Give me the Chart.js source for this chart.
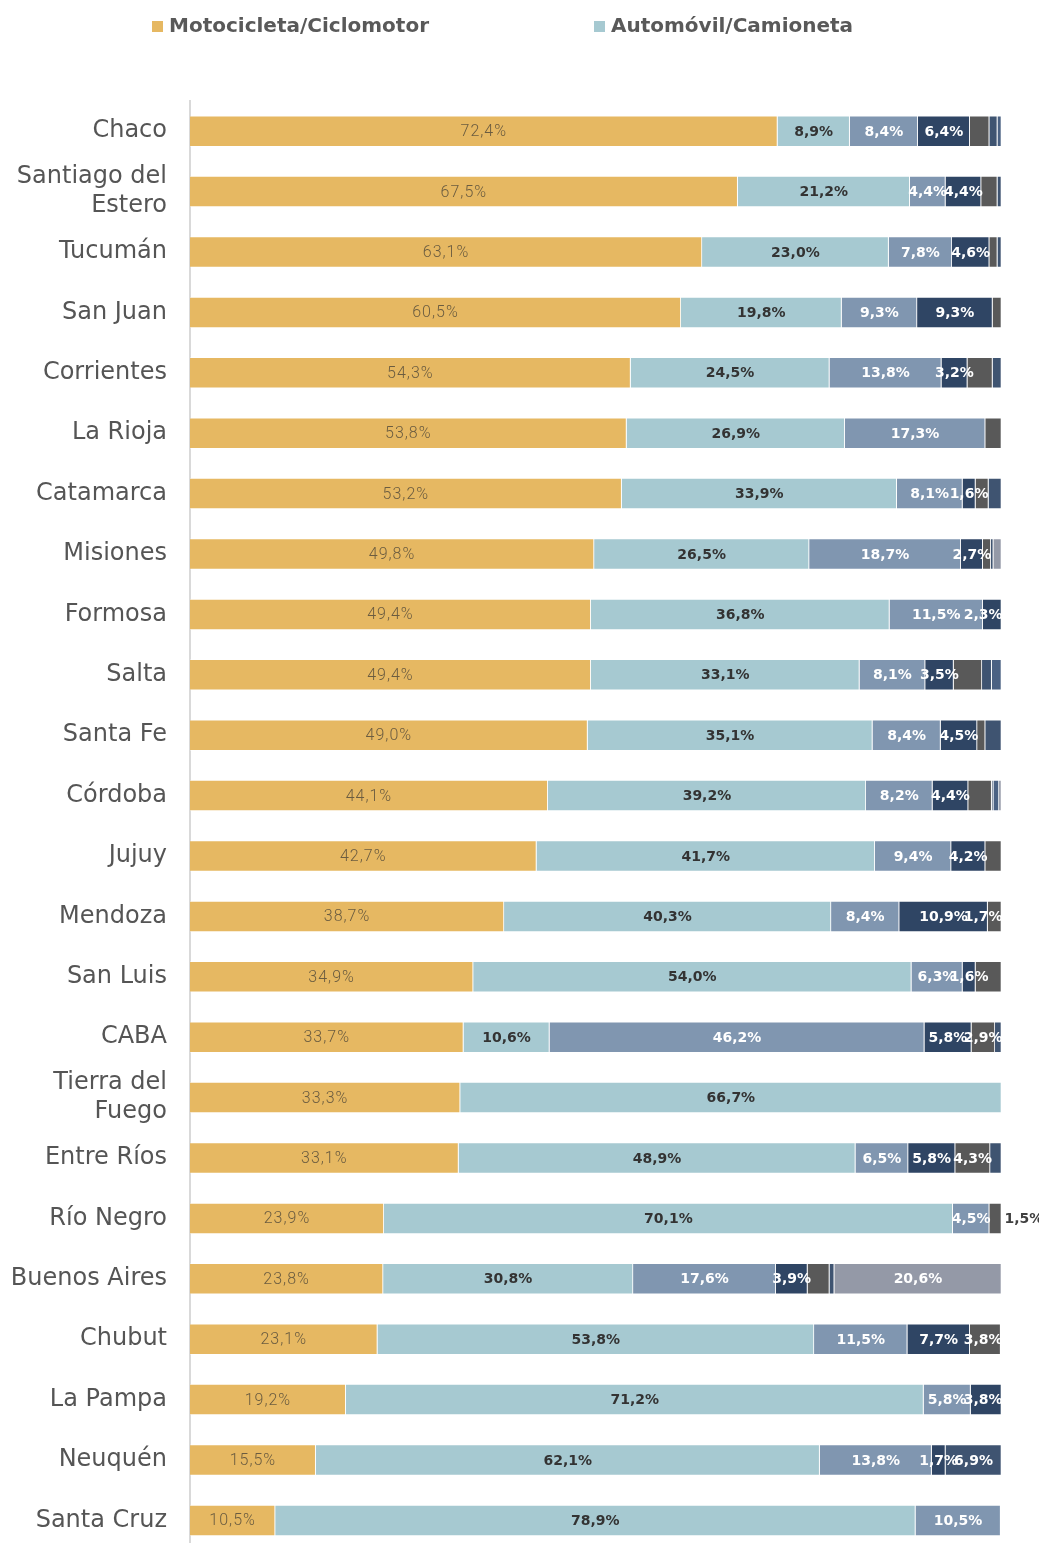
<!DOCTYPE html>
<html>
<head>
<meta charset="utf-8">
<script src="https://cdn.jsdelivr.net/npm/chart.js@4.4.1/dist/chart.umd.min.js"></script>
<style>
  html, body { margin:0; padding:0; background:#fff; overflow:hidden; }
  #wrap { width:1039px; height:1543px; overflow:hidden; position:relative; }
  #chart { display:block; }
</style>
</head>
<body>
<div id="wrap"><canvas id="chart" width="1039" height="1588" style="width:1039px;height:1588px;"></canvas></div>
<script>
// ---------- datos ----------
const provincias = ['Chaco', ['Santiago del', 'Estero'], 'Tucumán', 'San Juan', 'Corrientes', 'La Rioja', 'Catamarca',
  'Misiones', 'Formosa', 'Salta', 'Santa Fe', 'Córdoba', 'Jujuy', 'Mendoza', 'San Luis', 'CABA',
  ['Tierra del', 'Fuego'], 'Entre Ríos', 'Río Negro', 'Buenos Aires', 'Chubut', 'La Pampa', 'Neuquén', 'Santa Cruz'];

const moto   = [72.4, 67.5, 63.1, 60.5, 54.3, 53.8, 53.2, 49.8, 49.4, 49.4, 49.0, 44.1, 42.7, 38.7, 34.9, 33.7, 33.3, 33.1, 23.9, 23.8, 23.1, 19.2, 15.5, 10.5];
const auto   = [8.9, 21.2, 23.0, 19.8, 24.5, 26.9, 33.9, 26.5, 36.8, 33.1, 35.1, 39.2, 41.7, 40.3, 54.0, 10.6, 66.7, 48.9, 70.1, 30.8, 53.8, 71.2, 62.1, 78.9];
const serie3 = [8.4, 4.4, 7.8, 9.3, 13.8, 17.3, 8.1, 18.7, 11.5, 8.1, 8.4, 8.2, 9.4, 8.4, 6.3, 46.2, 0, 6.5, 4.5, 17.6, 11.5, 5.8, 13.8, 10.5];
const serie4 = [6.4, 4.4, 4.6, 9.3, 3.2, 0, 1.6, 2.7, 2.3, 3.5, 4.5, 4.4, 4.2, 10.9, 1.6, 5.8, 0, 5.8, 0, 3.9, 7.7, 3.8, 1.7, 0];
const serie5 = [2.4, 2.0, 1.0, 1.1, 3.1, 2.0, 1.6, 1.0, 0, 3.5, 1.0, 2.9, 2.0, 1.7, 3.2, 2.9, 0, 4.3, 1.5, 2.7, 3.8, 0, 0, 0];
const serie6 = [1.0, 0.5, 0.5, 0, 1.1, 0, 1.6, 0.3, 0, 1.2, 2.0, 0.2, 0, 0, 0, 0.8, 0, 1.4, 0, 0.6, 0, 0, 6.9, 0];
const serie7 = [0.5, 0, 0, 0, 0, 0, 0, 0, 0, 1.2, 0, 0.7, 0, 0, 0, 0, 0, 0, 0, 0, 0, 0, 0, 0];
const serie8 = [0, 0, 0, 0, 0, 0, 0, 1.0, 0, 0, 0, 0.3, 0, 0, 0, 0, 0, 0, 0, 20.6, 0, 0, 0, 0];

// etiquetas de la serie gris que sí se muestran
const grisConEtiqueta = ['Mendoza', 'CABA', 'Entre Ríos', 'Río Negro', 'Chubut'];
const etiquetaAfuera = ['Río Negro'];

const colores = ['#E6B862', '#A6C9D1', '#8096B0', '#2F4564', '#595959', '#3F5471', '#4B6283', '#9499A7'];

function nombre(i) {
    const p = provincias[i];
    return Array.isArray(p) ? p.join(' ') : p;
}

function mostrarEtiqueta(d, i, v) {
    if (!v) return false;
    if (d <= 3) return true;
    if (d === 4) return grisConEtiqueta.includes(nombre(i));
    if (d === 6) return false;
    return v >= 5;
}

function fmt(v) {
    return v.toFixed(1).replace('.', ',') + '%';
}

// ---------- plugins ----------
const etiquetas = {
    id: 'etiquetas',
    afterDatasetsDraw(chart) {
        const ctx = chart.ctx;
        const area = chart.chartArea;
        ctx.save();
        ctx.textBaseline = 'middle';
        chart.data.datasets.forEach((ds, d) => {
            const meta = chart.getDatasetMeta(d);
            meta.data.forEach((el, i) => {
                const v = ds.data[i];
                if (!mostrarEtiqueta(d, i, v)) return;
                const p = el.getProps(['x', 'y', 'base'], true);
                const txt = fmt(v);
                if (d === 0) {
                    ctx.font = '300 16px Roboto, "Open Sans", sans-serif';
                    ctx.letterSpacing = '1px';
                    ctx.fillStyle = '#6b5c40';
                } else {
                    ctx.font = 'bold 14px "DejaVu Sans", sans-serif';
                    ctx.letterSpacing = '0px';
                    ctx.fillStyle = d === 1 ? '#333333' : '#ffffff';
                }
                const w = ctx.measureText(txt).width;
                let cx = (p.x + p.base) / 2;
                if (etiquetaAfuera.includes(nombre(i)) && d === 4) {
                    ctx.fillStyle = '#404040';
                    ctx.textAlign = 'left';
                    ctx.fillText(txt, p.x + 3, p.y + 1);
                    return;
                }
                if (cx + w / 2 > area.right + 1) cx = area.right + 1 - w / 2;
                ctx.textAlign = 'center';
                ctx.fillText(txt, cx, p.y + 1);
            });
        });
        ctx.restore();
    }
};

const leyenda = {
    id: 'leyenda',
    afterDraw(chart) {
        const ctx = chart.ctx;
        const inicios = [152, 594];
        ctx.save();
        ctx.font = 'bold 20px "DejaVu Sans", sans-serif';
        ctx.textBaseline = 'middle';
        ctx.textAlign = 'left';
        [0, 1].forEach(d => {
            const ds = chart.data.datasets[d];
            const x = inicios[d];
            ctx.fillStyle = ds.backgroundColor;
            ctx.fillRect(x, 21, 11, 11);
            ctx.fillStyle = '#595959';
            ctx.fillText(ds.label, x + 17, 27);
        });
        ctx.restore();
    }
};

// ---------- grafico ----------
const series = [
    { label: 'Motocicleta/Ciclomotor', data: moto },
    { label: 'Automóvil/Camioneta', data: auto },
    { label: 'Serie 3', data: serie3 },
    { label: 'Serie 4', data: serie4 },
    { label: 'Serie 5', data: serie5 },
    { label: 'Serie 6', data: serie6 },
    { label: 'Serie 7', data: serie7 },
    { label: 'Serie 8', data: serie8 }
];

new Chart(document.getElementById('chart'), {
    type: 'bar',
    data: {
        labels: provincias,
        datasets: series.map((s, d) => ({
            label: s.label,
            data: s.data,
            backgroundColor: colores[d],
            borderColor: 'rgba(255,255,255,0.55)',
            borderWidth: 0.8,
            barPercentage: 0.515,
            categoryPercentage: 1
        }))
    },
    options: {
        indexAxis: 'y',
        responsive: false,
        animation: false,
        devicePixelRatio: 1,
        layout: { padding: { top: 101, right: 37.5, left: 0, bottom: 0 } },
        plugins: { legend: { display: false }, tooltip: { enabled: false } },
        scales: {
            x: { stacked: true, min: 0, max: 100, display: false },
            y: {
                stacked: true,
                grid: { display: false, drawTicks: false },
                border: { display: true, color: '#d9d9d9', width: 2 },
                ticks: {
                    autoSkip: false,
                    padding: 23,
                    color: '#555555',
                    font: { family: '"DejaVu Sans", sans-serif', size: 24, weight: 'normal', lineHeight: 1.2 }
                },
                afterFit(scale) { scale.width = 190; }
            }
        }
    },
    plugins: [etiquetas, leyenda]
});
</script>
</body>
</html>
